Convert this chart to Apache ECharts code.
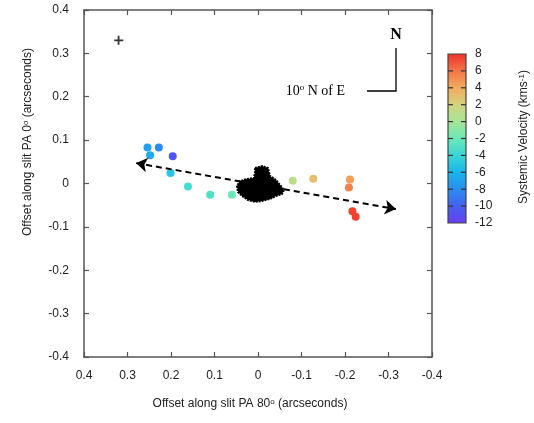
<!DOCTYPE html>
<html><head><meta charset="utf-8">
<script src="https://cdn.jsdelivr.net/npm/echarts@6/dist/echarts.min.js"></script>
<style>html,body{margin:0;padding:0;background:#fff}#c{width:534px;height:423px}</style>
</head><body><div id="c"></div>
<script>
// Data (arcseconds; velocity in km/s)
const ptX = [0.254, 0.228, 0.248, 0.196, 0.201, 0.161, 0.110, 0.060, -0.080, -0.127, -0.2115, -0.209, -0.217, -0.2246];
const ptY = [0.083, 0.083, 0.065, 0.063, 0.024, -0.007, -0.026, -0.026, 0.0065, 0.011, 0.009, -0.009, -0.064, -0.0765];
const ptV = [-7, -8, -6.5, -10.5, -5, -3.5, -3, -2, 1, 3, 4.5, 5.5, 7.5, 7.5];
// Central continuum blob outline
const blobX = [0.0069, -0.0092, -0.023, -0.0276, -0.0414, -0.0506, -0.0598, -0.0552, -0.0414, -0.0276, -0.0092, 0.0069, 0.023, 0.0368, 0.046, 0.0483, 0.0414, 0.0253, 0.0092, 0.0069];
const blobY = [0.0357, 0.0403, 0.0357, 0.0173, 0.0081, -0.0035, -0.015, -0.0242, -0.0288, -0.0357, -0.0403, -0.0426, -0.038, -0.0288, -0.0196, -0.0058, 0.0058, 0.0104, 0.0127, 0.0265];
// Slit direction arrow (10 deg N of E)
const arrowX = [0.28, -0.317];
const arrowY = [0.047, -0.059];
const plusX = [0.32];
const plusY = [0.33];
// Axis ranges / ticks
const axisMin = -0.4, axisMax = 0.4, axisStep = 0.1;
const cbMin = -12, cbMax = 8, cbStep = 2;
const cbTicks = [-10, -8, -6, -4, -2, 0, 2, 4, 6];
const cmap = ['#6a3cf0','#4660f0','#2a8cf0','#1ab4ea','#3ad6d6','#6ae8b8','#a6e696','#d4d27e','#f2aa5e','#f27446','#f0302a'];

const FONT = '"Liberation Sans", Arial, Helvetica, sans-serif';
const SERIF = '"Liberation Serif", "Times New Roman", serif';
const fmt = v => Math.abs(v) < 1e-9 ? '0' : v.toFixed(1);

const axCommon = {
  type: 'value', min: axisMin, max: axisMax, interval: axisStep,
  axisLine: { show: true, onZero: false, lineStyle: { color: '#555', width: 1.5 } },
  axisTick: { show: true, inside: true, length: 5, lineStyle: { color: '#555', width: 1.2 } },
  splitLine: { show: false }
};

const chart = echarts.init(document.getElementById('c'), null, { renderer: 'canvas' });
chart.setOption({
  animation: false,
  backgroundColor: '#fff',
  grid: [
    { left: 84, top: 10, width: 348, height: 347 },
    { left: 448, top: 54, width: 18, height: 169 }
  ],
  xAxis: [
    Object.assign({}, axCommon, { gridIndex: 0, position: 'bottom', inverse: true,
      axisLabel: { color: '#222', fontSize: 12, fontFamily: FONT, margin: 13, formatter: fmt } }),
    Object.assign({}, axCommon, { gridIndex: 0, position: 'top', inverse: true, axisLabel: { show: false } }),
    { type: 'value', gridIndex: 1, min: 0, max: 1, show: false }
  ],
  yAxis: [
    Object.assign({}, axCommon, { gridIndex: 0, position: 'left',
      axisLabel: { color: '#222', fontSize: 12, fontFamily: FONT, margin: 15, formatter: fmt } }),
    Object.assign({}, axCommon, { gridIndex: 0, position: 'right', axisLabel: { show: false } }),
    { type: 'value', gridIndex: 1, min: cbMin, max: cbMax, interval: cbStep, position: 'right',
      axisLine: { show: false }, axisTick: { show: false },
      axisLabel: { color: '#222', fontSize: 12, fontFamily: FONT, margin: 9, showMinLabel: true, showMaxLabel: true },
      splitLine: { show: false } }
  ],
  visualMap: {
    show: false, type: 'continuous', min: cbMin, max: cbMax, dimension: 2,
    seriesIndex: 0, inRange: { color: cmap }
  },
  series: [
    {
      type: 'scatter', xAxisIndex: 0, yAxisIndex: 0, symbolSize: 8, z: 3,
      data: ptX.map((x, i) => [x, ptY[i], ptV[i]]),
      itemStyle: { opacity: 1 }
    },
    {
      type: 'custom', xAxisIndex: 0, yAxisIndex: 0, z: 4,
      data: [0],
      renderItem: (params, api) => ({
        type: 'polygon',
        shape: { points: blobX.map((x, i) => api.coord([x, blobY[i]])) },
        style: { fill: '#000', stroke: '#000', lineWidth: 2, lineDash: [2, 1] }
      })
    },
    {
      type: 'lines', coordinateSystem: 'cartesian2d', xAxisIndex: 0, yAxisIndex: 0, z: 5,
      symbol: ['arrow', 'arrow'], symbolSize: 11,
      lineStyle: { color: '#000', width: 2, type: [6, 4], opacity: 1 },
      data: [{ coords: [[arrowX[0], arrowY[0]], [arrowX[1], arrowY[1]]] }]
    },
    {
      type: 'scatter', xAxisIndex: 0, yAxisIndex: 0, z: 5,
      symbol: 'path://M3,0h1.6v3.2h3.4v1.6h-3.4v3.2h-1.6v-3.2h-3v-1.6h3z', symbolSize: 9,
      itemStyle: { color: '#000' },
      data: plusX.map((x, i) => [x, plusY[i]])
    },
    {
      type: 'custom', xAxisIndex: 2, yAxisIndex: 2, z: 2,
      data: [[0, cbMin, 1, cbMax]],
      renderItem: (params, api) => {
        const p0 = api.coord([api.value(0), api.value(3)]);
        const p1 = api.coord([api.value(2), api.value(1)]);
        return {
          type: 'rect',
          shape: { x: p0[0], y: p0[1], width: p1[0] - p0[0], height: p1[1] - p0[1] },
          style: {
            fill: new echarts.graphic.LinearGradient(0, 1, 0, 0,
              cmap.map((c, i) => ({ offset: i / (cmap.length - 1), color: c }))),
            stroke: '#444', lineWidth: 1.2
          }
        };
      }
    },
    {
      type: 'custom', xAxisIndex: 2, yAxisIndex: 2, z: 3,
      data: cbTicks.map(v => [v]),
      renderItem: (params, api) => {
        const l = api.coord([0, api.value(0)]);
        const r = api.coord([1, api.value(0)]);
        return {
          type: 'group',
          children: [
            { type: 'line', shape: { x1: l[0], y1: l[1], x2: l[0] + 5, y2: l[1] }, style: { stroke: '#333', lineWidth: 1.2 } },
            { type: 'line', shape: { x1: r[0] - 5, y1: r[1], x2: r[0], y2: r[1] }, style: { stroke: '#333', lineWidth: 1.2 } }
          ]
        };
      }
    }
  ],
  graphic: [
    { type: 'polyline', z: 10, shape: { points: [[367, 91], [396, 91], [396, 48]] },
      style: { stroke: '#000', lineWidth: 1.3, fill: null } },
    { type: 'text', z: 10, x: 396, y: 35,
      style: { text: 'N', font: 'bold 16px ' + SERIF, fill: '#000', align: 'center', verticalAlign: 'middle' } },
    { type: 'text', z: 10, x: 345, y: 91,
      style: { text: '{a|10}{s|o}{a| N of E}', align: 'right', verticalAlign: 'middle',
        rich: { a: { fill: '#000', fontFamily: SERIF, fontSize: 14 },
                s: { fontFamily: SERIF, fontSize: 9, padding: [0, 0, 6, 0] } } } },
    { type: 'text', z: 10, x: 28, y: 142, rotation: Math.PI / 2,
      style: { text: '{a|Offset along slit PA 0}{s|o}{a| (arcseconds)}', align: 'center', verticalAlign: 'middle',
        rich: { a: { fontFamily: FONT, fontSize: 12, fill: '#222' },
                s: { fontFamily: FONT, fontSize: 8, fill: '#222', padding: [0, 0, 5, 0] } } } },
    { type: 'text', z: 10, x: 250, y: 404,
      style: { text: '{a|Offset along slit PA 80}{s|o}{a| (arcseconds)}', align: 'center', verticalAlign: 'middle',
        rich: { a: { fontFamily: FONT, fontSize: 12, fill: '#222' },
                s: { fontFamily: FONT, fontSize: 8, fill: '#222', padding: [0, 0, 5, 0] } } } },
    { type: 'text', z: 10, x: 524, y: 137, rotation: Math.PI / 2,
      style: { text: '{a|Systemic Velocity (kms}{s|-1}{a|)}', align: 'center', verticalAlign: 'middle',
        rich: { a: { fontFamily: FONT, fontSize: 12, fill: '#222' },
                s: { fontFamily: FONT, fontSize: 8, fill: '#222', padding: [0, 0, 5, 0] } } } }
  ]
});
</script>
</body></html>
